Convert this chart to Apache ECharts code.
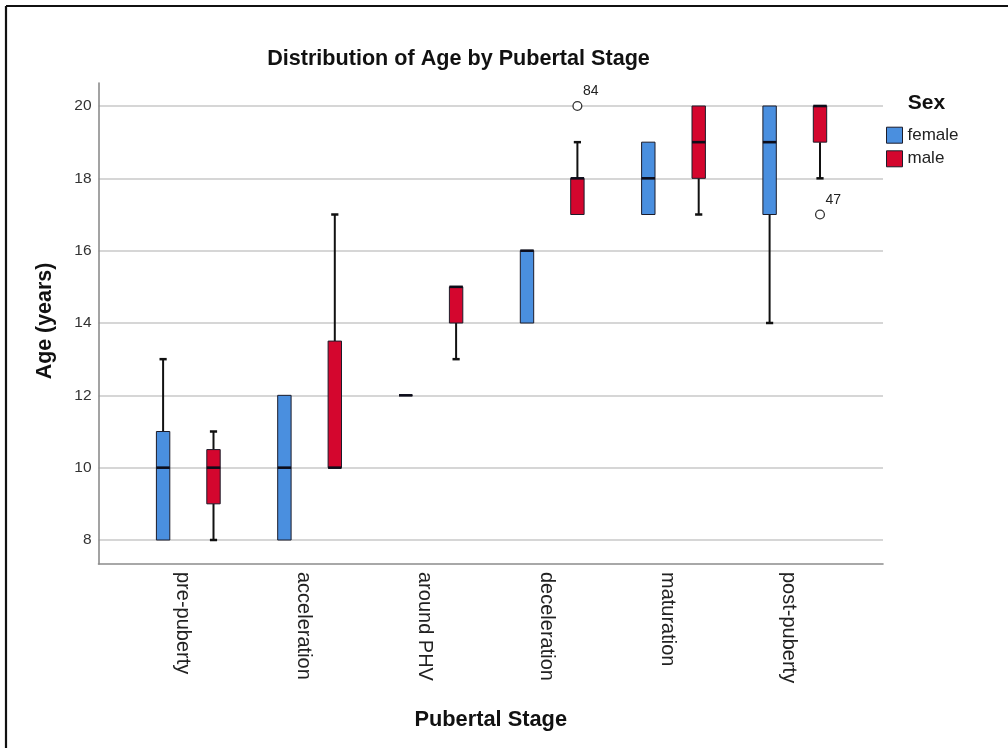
<!DOCTYPE html>
<html><head><meta charset="utf-8">
<script src="https://cdn.jsdelivr.net/npm/echarts@6/dist/echarts.min.js"></script>
<style>html,body{margin:0;padding:0;background:#fff}#c{width:1008px;height:748px}</style>
</head><body><div id="c"></div>
<script>
// ---- data ----
const stages = ['pre-puberty', 'acceleration', 'around PHV', 'deceleration', 'maturation', 'post-puberty'];
const femaleMin    = [8, 8, 12, 14, 17, 14];
const femaleQ1     = [8, 8, 12, 14, 17, 17];
const femaleMedian = [10, 10, 12, 16, 18, 19];
const femaleQ3     = [11, 12, 12, 16, 19, 20];
const femaleMax    = [13, 12, 12, 16, 19, 20];
const maleMin      = [8, 10, 13, 17, 17, 18];
const maleQ1       = [9, 10, 14, 17, 18, 19];
const maleMedian   = [10, 10, 15, 18, 19, 20];
const maleQ3       = [10.5, 13.5, 15, 18, 20, 20];
const maleMax      = [11, 17, 15, 19, 20, 20];
const outlierStage = [3, 5];
const outlierAge   = [20, 17];
const outlierId    = ['84', '47'];
const seriesNames  = ['female', 'male'];

// ---- style ----
const FONT = "'Liberation Sans', Arial, sans-serif";
const BLUE = '#4a8fdf', RED = '#d4062e';
const OFFSET = 25.2;

function boxData(mn, q1, md, q3, mx) {
  return stages.map((s, i) => [i, mn[i], q1[i], md[i], q3[i], mx[i]]);
}

function boxRenderer(offset, fill) {
  return function (params, api) {
    const i = api.value(0);
    const yv = k => api.coord([i, api.value(k)])[1];
    const x = api.coord([i, api.value(3)])[0] + offset;
    const yMin = yv(1), yQ1 = yv(2), yMed = yv(3), yQ3 = yv(4), yMax = yv(5);
    const hw = 6.7, cw = 3.6;
    const kids = [];
    if (yMax < yQ3 - 0.5) {
      kids.push({type: 'line', shape: {x1: x, y1: yQ3, x2: x, y2: yMax}, style: {stroke: '#111', lineWidth: 2}});
      kids.push({type: 'line', shape: {x1: x - cw, y1: yMax, x2: x + cw, y2: yMax}, style: {stroke: '#111', lineWidth: 2.5}});
    }
    if (yMin > yQ1 + 0.5) {
      kids.push({type: 'line', shape: {x1: x, y1: yQ1, x2: x, y2: yMin}, style: {stroke: '#111', lineWidth: 2}});
      kids.push({type: 'line', shape: {x1: x - cw, y1: yMin, x2: x + cw, y2: yMin}, style: {stroke: '#111', lineWidth: 2.5}});
    }
    kids.push({type: 'rect', shape: {x: x - hw, y: yQ3, width: 2 * hw, height: yQ1 - yQ3},
      style: {fill: fill, stroke: '#1c1c2a', lineWidth: 1}});
    kids.push({type: 'line', shape: {x1: x - hw, y1: yMed, x2: x + hw, y2: yMed},
      style: {stroke: '#0d0d1a', lineWidth: 2.6}});
    return {type: 'group', children: kids};
  };
}

function outlierRenderer(offset) {
  return function (params, api) {
    const c = api.coord([api.value(0), api.value(1)]);
    const x = c[0] + offset, y = c[1];
    return {type: 'group', children: [
      {type: 'circle', shape: {cx: x, cy: y, r: 4.4}, style: {fill: '#fff', stroke: '#333', lineWidth: 1.3}},
      {type: 'text', x: x + 5.5, y: y - 14.5, style: {text: outlierId[params.dataIndex], fontSize: 14,
        fontFamily: FONT, fill: '#222', align: 'left', verticalAlign: 'middle'}}
    ]};
  };
}

const YMIN = 7.34, YMAX = 20.64;
const chart = echarts.init(document.getElementById('c'));
chart.setOption({
  animation: false,
  backgroundColor: '#fff',
  grid: [
    {left: 98.5, right: 125, top: 106, bottom: 208},      // 0: gridlines + y labels
    {left: 127.65, right: 152.55, top: 106, bottom: 208}, // 1: boxes
    {left: 121.5, right: 158.7, top: 83, bottom: 184},    // 2: category labels
    {left: 98.5, right: 125, top: 83, bottom: 184}        // 3: axis lines
  ],
  xAxis: [
    {gridIndex: 0, type: 'value', show: false},
    {gridIndex: 1, type: 'category', data: stages, show: false},
    {gridIndex: 2, type: 'category', data: stages, axisLine: {show: false}, axisTick: {show: false},
      axisLabel: {rotate: -90, margin: 8, fontSize: 20, fontFamily: FONT, color: '#222', interval: 0}},
    {gridIndex: 3, type: 'value', min: 0, max: 1, axisLine: {show: true, lineStyle: {color: '#8c8c8c', width: 1.6}},
      axisTick: {show: false}, axisLabel: {show: false}, splitLine: {show: false}}
  ],
  yAxis: [
    {gridIndex: 0, type: 'value', min: 8, max: 20, interval: 2, axisLine: {show: false}, axisTick: {show: false},
      axisLabel: {margin: 7, fontSize: 15.5, fontFamily: FONT, color: '#333'},
      splitLine: {show: true, lineStyle: {color: '#c9c9c9', width: 1.5}}},
    {gridIndex: 1, type: 'value', min: 8, max: 20, show: false},
    {gridIndex: 2, type: 'value', min: YMIN, max: YMAX, show: false},
    {gridIndex: 3, type: 'value', min: YMIN, max: YMAX, axisLine: {show: true, lineStyle: {color: '#8c8c8c', width: 1.6}},
      axisTick: {show: false}, axisLabel: {show: false}, splitLine: {show: false}}
  ],
  legend: {
    orient: 'vertical', left: 881, top: 121.7, itemWidth: 16, itemHeight: 16, itemGap: 6.6,
    selectedMode: false, icon: 'rect',
    textStyle: {fontSize: 17, lineHeight: 16, fontFamily: FONT, color: '#222'},
    data: [
      {name: seriesNames[0], itemStyle: {color: BLUE, borderColor: '#1c1c2a', borderWidth: 1}},
      {name: seriesNames[1], itemStyle: {color: RED, borderColor: '#1c1c2a', borderWidth: 1}}
    ]
  },
  series: [
    {name: seriesNames[0], type: 'custom', xAxisIndex: 1, yAxisIndex: 1, itemStyle: {color: BLUE},
      renderItem: boxRenderer(-OFFSET, BLUE), data: boxData(femaleMin, femaleQ1, femaleMedian, femaleQ3, femaleMax)},
    {name: seriesNames[1], type: 'custom', xAxisIndex: 1, yAxisIndex: 1, itemStyle: {color: RED},
      renderItem: boxRenderer(OFFSET, RED), data: boxData(maleMin, maleQ1, maleMedian, maleQ3, maleMax)},
    {name: 'outliers', type: 'custom', xAxisIndex: 1, yAxisIndex: 1, z: 5,
      renderItem: outlierRenderer(OFFSET), data: outlierStage.map((s, i) => [s, outlierAge[i]])}
  ],
  graphic: [
    {type: 'line', shape: {x1: 6, y1: 6, x2: 1008, y2: 6}, style: {stroke: '#111', lineWidth: 2.2}},
    {type: 'line', shape: {x1: 6, y1: 6, x2: 6, y2: 748}, style: {stroke: '#111', lineWidth: 2.2}},
    {type: 'text', x: 458.5, y: 59, style: {text: 'Distribution of Age by Pubertal Stage', fontSize: 21.6,
      fontWeight: 'bold', fontFamily: FONT, fill: '#111', align: 'center', verticalAlign: 'middle'}},
    {type: 'text', x: 45, y: 321, rotation: Math.PI / 2, style: {text: 'Age (years)', fontSize: 21.4,
      fontWeight: 'bold', fontFamily: FONT, fill: '#111', align: 'center', verticalAlign: 'middle'}},
    {type: 'text', x: 490.7, y: 720, style: {text: 'Pubertal Stage', fontSize: 21.8,
      fontWeight: 'bold', fontFamily: FONT, fill: '#111', align: 'center', verticalAlign: 'middle'}},
    {type: 'text', x: 926.4, y: 103, style: {text: 'Sex', fontSize: 21,
      fontWeight: 'bold', fontFamily: FONT, fill: '#111', align: 'center', verticalAlign: 'middle'}}
  ]
});
</script>
</body></html>
